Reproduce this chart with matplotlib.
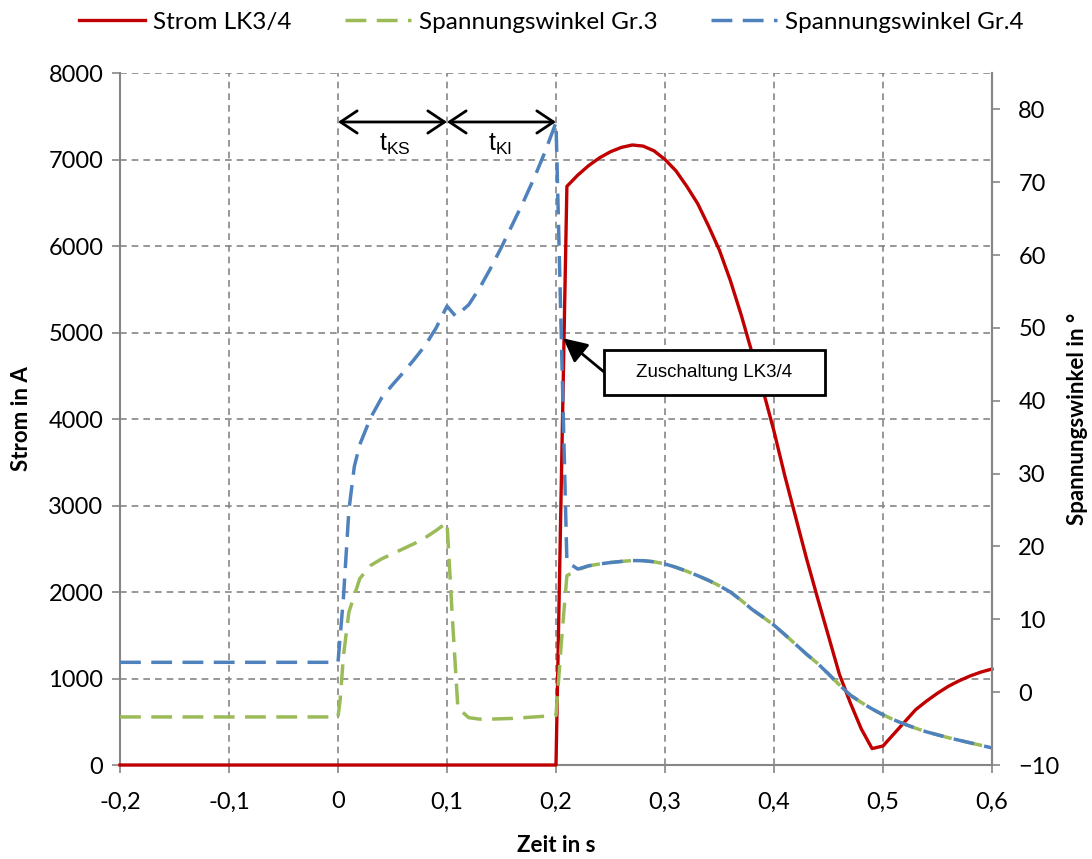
import matplotlib.pyplot as plt
from matplotlib.patches import Rectangle
from matplotlib.ticker import FuncFormatter, MultipleLocator

plt.rcParams['font.family'] = ['Lato', 'DejaVu Sans']

# Strom LK3/4 (A)
t_strom = [-0.2, 0.2, 0.21, 0.22, 0.23, 0.24, 0.25, 0.26, 0.27, 0.28, 0.29, 0.30,
           0.31, 0.32, 0.33, 0.34, 0.35, 0.36, 0.37, 0.38, 0.39, 0.40, 0.41, 0.42,
           0.43, 0.44, 0.45, 0.46, 0.47, 0.48, 0.49, 0.50, 0.51, 0.52, 0.53, 0.54,
           0.55, 0.56, 0.57, 0.58, 0.59, 0.60]
strom = [0, 0, 6690, 6820, 6930, 7020, 7090, 7140, 7168, 7155, 7100, 7000,
         6870, 6690, 6490, 6230, 5950, 5600, 5200, 4760, 4330, 3860, 3340, 2860,
         2380, 1930, 1490, 1050, 720, 420, 190, 220, 360, 500, 640, 740,
         830, 910, 975, 1030, 1075, 1110]

# gemeinsamer Verlauf beider Spannungswinkel nach der Zuschaltung
t_nach = [0.23, 0.24, 0.25, 0.26, 0.27, 0.28, 0.29, 0.30, 0.31, 0.32, 0.33, 0.34,
          0.35, 0.36, 0.37, 0.38, 0.39, 0.40, 0.41, 0.42, 0.43, 0.44, 0.45, 0.46,
          0.47, 0.48, 0.49, 0.50, 0.51, 0.52, 0.53, 0.54, 0.55, 0.56, 0.57, 0.58,
          0.59, 0.60]
winkel_nach = [17.35, 17.6, 17.8, 17.95, 18.07, 18.05, 17.9, 17.6, 17.15, 16.6, 16.0, 15.35,
               14.6, 13.75, 12.6, 11.35, 10.3, 9.2, 7.9, 6.55, 5.2, 3.95, 2.5, 1.0,
               -0.4, -1.4, -2.3, -3.1, -3.8, -4.4, -4.95, -5.45, -5.85, -6.25, -6.6, -6.95,
               -7.3, -7.65]

# Spannungswinkel Gr.3 (Grad)
t_gr3 = [-0.2, 0.0, 0.002, 0.005, 0.01, 0.02, 0.03, 0.04, 0.05, 0.06, 0.07, 0.08,
         0.09, 0.1, 0.105, 0.11, 0.12, 0.13, 0.14, 0.15, 0.16, 0.17, 0.18, 0.19,
         0.2, 0.205, 0.21, 0.22] + t_nach
gr3 = [-3.4, -3.4, -1.0, 5.0, 11.0, 15.6, 17.4, 18.3, 19.0, 19.7, 20.4, 21.2,
       22.2, 23.3, 10.0, -2.2, -3.5, -3.7, -3.7, -3.65, -3.6, -3.5, -3.4, -3.3,
       -3.2, 7.0, 16.0, 16.8] + winkel_nach

# Spannungswinkel Gr.4 (Grad)
t_gr4 = [-0.2, 0.0, 0.005, 0.01, 0.015, 0.02, 0.03, 0.04, 0.05, 0.06, 0.07, 0.08,
         0.09, 0.1, 0.108, 0.12, 0.13, 0.14, 0.15, 0.16, 0.17, 0.18, 0.19, 0.2,
         0.21, 0.22] + t_nach
gr4 = [4.1, 4.1, 13.0, 25.0, 31.0, 34.0, 37.7, 40.4, 42.2, 43.9, 45.7, 47.6,
       50.0, 53.0, 51.6, 53.2, 55.5, 58.2, 61.1, 64.2, 67.3, 70.6, 74.2, 78.2,
       17.9, 16.9] + winkel_nach

x_ticks = [-0.2, -0.1, 0.0, 0.1, 0.2, 0.3, 0.4, 0.5, 0.6]

rot = '#C00000'
gruen = '#9BBB59'
blau = '#4F81BD'
grau = '#868686'

fig = plt.figure(figsize=(10.92, 8.59), dpi=100)
ax = fig.add_axes([0.1099, 0.1094, 0.7985, 0.8056])
ax2 = ax.twinx()

ax.set_xlim(-0.2, 0.6)
ax.set_ylim(0, 8000)
ax2.set_ylim(-10, 85)
ax.set_xticks(x_ticks)
ax.yaxis.set_major_locator(MultipleLocator(1000))
ax2.set_yticks(range(-10, 81, 10))
ax.xaxis.set_major_formatter(FuncFormatter(
    lambda v, p: '0' if abs(v) < 1e-9 else f'{v:.1f}'.replace('.', ',')))

# Gitter gestrichelt grau
ax.grid(True, color=grau, linestyle=(0, (4, 3)), linewidth=1.2)
ax.set_axisbelow(True)

for a in (ax, ax2):
    a.spines['top'].set_visible(False)
    for s in ('left', 'right', 'bottom'):
        a.spines[s].set_color(grau)
        a.spines[s].set_linewidth(1.5)
    a.tick_params(colors=grau, length=6, width=1.2, labelcolor='black', labelsize=17)
ax2.spines['bottom'].set_visible(False)
ax2.spines['left'].set_visible(False)
ax.tick_params(axis='x', pad=13)
ax.tick_params(axis='y', pad=6)
ax2.tick_params(axis='y', pad=13)

l_strom, = ax.plot(t_strom, strom, color=rot, lw=2.4, label='Strom LK3/4',
                   zorder=5, clip_on=False)
l_gr3, = ax2.plot(t_gr3, gr3, color=gruen, lw=2.5, dashes=(6, 3),
                  label='Spannungswinkel Gr.3')
l_gr4, = ax2.plot(t_gr4, gr4, color=blau, lw=2.5, dashes=(6, 3),
                  label='Spannungswinkel Gr.4')

ax.set_ylabel('Strom in A', fontsize=16, fontweight='bold', labelpad=12)
ax.set_xlabel('Zeit in s', fontsize=16, fontweight='bold', labelpad=16)
ax2.set_ylabel('Spannungswinkel in °', fontsize=16, fontweight='bold', labelpad=5)

fig.legend(handles=[l_strom, l_gr3, l_gr4], loc='upper center', ncol=3,
           bbox_to_anchor=(0.505, 1.012), frameon=False, fontsize=17.5,
           handlelength=2.7, columnspacing=2.2, handletextpad=0.35)

# Kommandozeiten
pfeil = dict(arrowstyle='<->, head_length=0.6, head_width=0.4', color='black',
             lw=2, shrinkA=0, shrinkB=0, mutation_scale=20)
ax.annotate('', xy=(0.0, 7434), xytext=(0.1, 7434), arrowprops=pfeil)
ax.annotate('', xy=(0.1, 7434), xytext=(0.2, 7434), arrowprops=pfeil)
ax.text(0.052, 7170, r'$\mathregular{t_{KS}}$', ha='center', va='center',
        fontsize=18, family='Liberation Sans')
ax.text(0.149, 7170, r'$\mathregular{t_{KI}}$', ha='center', va='center',
        fontsize=18, family='Liberation Sans')

# Beschriftung der Zuschaltung mit Kasten und Pfeil
ax.add_patch(Rectangle((0.244, 4277), 0.2028, 521, fc='white', ec='black',
                       lw=2, zorder=10))
ax.text(0.3454, 4538, 'Zuschaltung LK3/4', ha='center', va='center',
        fontsize=13.5, family='Liberation Sans', zorder=11)
ax.annotate('', xy=(0.2067, 4933), xytext=(0.244, 4545),
            arrowprops=dict(arrowstyle='-|>, head_length=0.8, head_width=0.4',
                            color='black', lw=2, shrinkA=0, shrinkB=0,
                            mutation_scale=18),
            zorder=10)

fig.savefig('out.png', dpi=100)
